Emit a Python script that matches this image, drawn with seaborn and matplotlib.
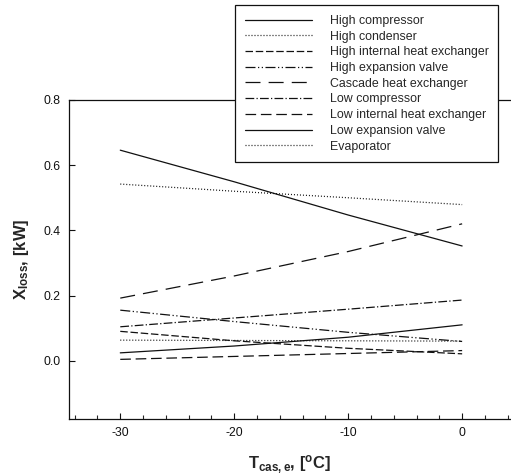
import matplotlib
matplotlib.use("Agg")
import matplotlib.pyplot as plt
import seaborn as sns
import pandas as pd
from matplotlib.ticker import MultipleLocator

sns.set_style("ticks")
plt.rcParams['font.family'] = ['Liberation Sans', 'DejaVu Sans']
plt.rcParams['axes.unicode_minus'] = False
plt.rcParams['mathtext.fontset'] = 'custom'
plt.rcParams['mathtext.rm'] = 'Liberation Sans:bold'
plt.rcParams['mathtext.it'] = 'Liberation Sans:bold'
plt.rcParams['mathtext.bf'] = 'Liberation Sans:bold'
plt.rcParams['mathtext.default'] = 'regular'

t_cas = [-30, -20, -10, 0]

high_compressor = [0.646, 0.549, 0.447, 0.352]
high_condenser = [0.542, 0.520, 0.500, 0.479]
high_internal_hx = [0.090, 0.061, 0.038, 0.021]
high_expansion_valve = [0.155, 0.120, 0.087, 0.059]
cascade_hx = [0.192, 0.260, 0.335, 0.420]
low_compressor = [0.104, 0.131, 0.158, 0.186]
low_internal_hx = [0.004, 0.013, 0.022, 0.031]
low_expansion_valve = [0.024, 0.045, 0.072, 0.110]
evaporator = [0.063, 0.062, 0.061, 0.060]

names = ["High compressor", "High condenser", "High internal heat exchanger",
         "High expansion valve", "Cascade heat exchanger", "Low compressor",
         "Low internal heat exchanger", "Low expansion valve", "Evaporator"]
series = [high_compressor, high_condenser, high_internal_hx, high_expansion_valve,
          cascade_hx, low_compressor, low_internal_hx, low_expansion_valve, evaporator]

dashes = {
    "High compressor": "",
    "High condenser": (0.8, 1.6),
    "High internal heat exchanger": (6, 2.2),
    "High expansion valve": (8, 2, 1, 2, 1, 2),
    "Cascade heat exchanger": (12, 6.5),
    "Low compressor": (7, 1.8, 1, 1.8),
    "Low internal heat exchanger": (8.5, 3.8),
    "Low expansion valve": "",
    "Evaporator": (0.8, 1.6),
}

rows = []
for n, s in zip(names, series):
    for x, y in zip(t_cas, s):
        rows.append({"T": x, "X": y, "Component": n})
df = pd.DataFrame(rows)

fig = plt.figure(figsize=(5.11, 4.76), dpi=100)
ax = fig.add_axes([69/511, 1 - 419/476, (510-69)/511, (419-100)/476])

sns.lineplot(data=df, x="T", y="X", hue="Component", style="Component",
             hue_order=names, style_order=names,
             palette=["#111111"]*9, dashes=dashes, linewidth=0.9,
             ax=ax, legend=True)

ax.set_xlim(-34.5, 4.2)
ax.set_ylim(-0.179, 0.8)
ax.xaxis.set_major_locator(MultipleLocator(10))
ax.xaxis.set_minor_locator(MultipleLocator(2))
ax.set_yticks([0.0, 0.2, 0.4, 0.6, 0.8])
ax.yaxis.set_major_formatter(matplotlib.ticker.FormatStrFormatter('%.1f'))
ax.tick_params(axis='both', which='major', direction='in', length=4, width=0.8,
               labelsize=8.8, pad=6, colors='#111111')
ax.tick_params(axis='x', which='minor', direction='in', length=3, width=0.8)
ax.spines['right'].set_visible(False)
for sp in ['left', 'bottom', 'top']:
    ax.spines[sp].set_linewidth(0.9)
    ax.spines[sp].set_color('#111111')

ax.set_xlabel(r"$T_{cas,e}$, [$^{o}$C]", fontsize=12, fontweight='bold', labelpad=10)
ax.set_ylabel(r"$X_{loss}$, [kW]", fontsize=12, fontweight='bold', labelpad=9)

leg = ax.legend(loc='upper left', bbox_to_anchor=(235/511, 1 - 5/476),
                bbox_transform=fig.transFigure, frameon=True, fancybox=False,
                fontsize=8.9, handlelength=5.4, handletextpad=1.45,
                labelspacing=0.3, borderpad=0.8, borderaxespad=0)
leg.get_frame().set_edgecolor('#111111')
leg.get_frame().set_linewidth(0.9)
leg.get_frame().set_alpha(1)
for line in leg.get_lines():
    line.set_linewidth(0.9)

fig.savefig("out.png", dpi=100)
